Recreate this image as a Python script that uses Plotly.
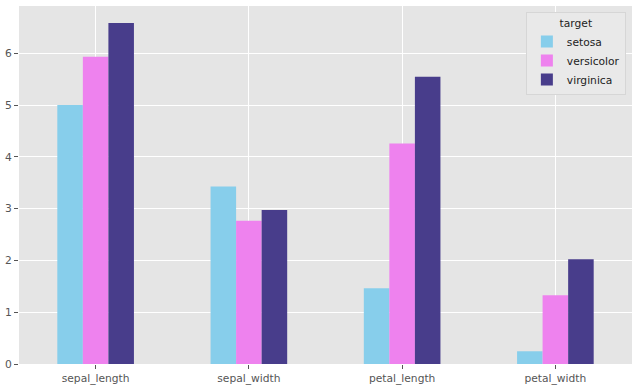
import plotly.graph_objects as go

categories = ["sepal_length", "sepal_width", "petal_length", "petal_width"]
setosa = [5.006, 3.428, 1.462, 0.246]
versicolor = [5.936, 2.770, 4.260, 1.326]
virginica = [6.588, 2.974, 5.552, 2.026]
series = [("setosa", setosa, "#87CEEB"), ("versicolor", versicolor, "#EE82EE"), ("virginica", virginica, "#483D8B")]
y_ticks = [0, 1, 2, 3, 4, 5, 6]

fig = go.Figure()
for name, vals, col in series:
    fig.add_trace(go.Bar(x=categories, y=vals, name=name, marker=dict(color=col, line=dict(width=0))))

font = "DejaVu Sans"
fig.update_layout(
    width=639, height=391,
    margin=dict(l=19, r=7, t=6, b=27),
    paper_bgcolor="white", plot_bgcolor="#E5E5E5",
    barmode="group", bargap=0.5, bargroupgap=0,
    font=dict(family=font, size=10.7, color="#555555"),
    showlegend=True,
    legend=dict(
        title=dict(text="target", side="top center", font=dict(size=10.7, color="#222222")),
        x=0.99, y=0.983, xanchor="right", yanchor="top",
        bgcolor="#E9E9E9", bordercolor="#D6D6D6", borderwidth=1,
        font=dict(size=10.7, color="#222222"),
        tracegroupgap=0, itemwidth=30,
    ),
    xaxis=dict(
        showgrid=True, gridcolor="white", gridwidth=1, automargin=False,
        ticks="outside", ticklen=4, tickcolor="#555555",
        tickfont=dict(size=10.7, color="#555555"), zeroline=False,
    ),
    yaxis=dict(
        range=[0, 6.917], tickvals=y_ticks, automargin=False,
        showgrid=True, gridcolor="white", gridwidth=1,
        ticks="outside", ticklen=4, tickcolor="#555555",
        tickfont=dict(size=10.7, color="#555555"), zeroline=False,
    ),
)

fig.write_html("out.html", config={"displayModeBar": False},
               post_script="document.body.style.margin='0';")
